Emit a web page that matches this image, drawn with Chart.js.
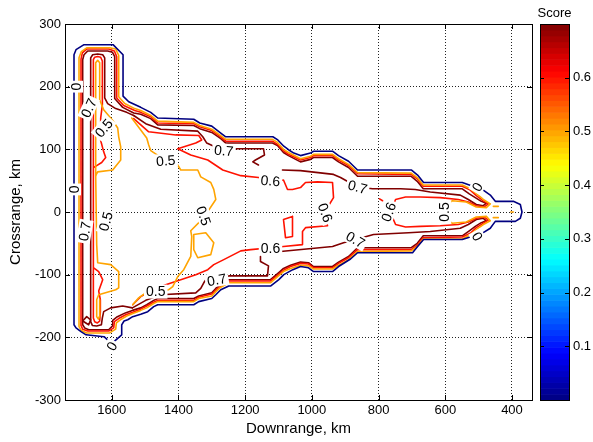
<!DOCTYPE html>
<html>
<head>
<meta charset="utf-8">
<script src="https://cdn.jsdelivr.net/npm/chart.js@4.4.1/dist/chart.umd.min.js"></script>
<style>
  html, body { margin: 0; padding: 0; background: #fff; }
  #wrap { width: 593px; height: 442px; position: relative; }
</style>
</head>
<body>
<div id="wrap"><canvas id="scoreChart"></canvas></div>
<script>
const fontFamily = "'Liberation Sans', Arial, sans-serif";

// axes
const xTicks = [400, 600, 800, 1000, 1200, 1400, 1600];
const yTicks = [-300, -200, -100, 0, 100, 200, 300];
const scoreTicks = [0.1, 0.2, 0.3, 0.4, 0.5, 0.6];
const scoreMin = 0;
const scoreMax = 0.70;

// contour polylines, [downrange km, crossrange km]
const level0Outline = [[1713,209],[1713,251],[1707,259],[1683,267],[1596,267],[1566,251],[1566,185],[1549,176],[1513,167],[1483,159],[1462,150],[1354,148],[1336,142],[1300,137],[1273,126],[1258,120],[1117,120],[1102,115],[1084,105],[1069,99],[1054,94],[1034,90],[1004,94],[995,97],[938,97],[920,90],[890,81],[863,67],[701,67],[683,59],[665,47],[549,47],[486,35],[465,27],[450,17],[396,17],[375,12],[370,0],[375,-10],[390,-15],[450,-15],[465,-26],[486,-33],[549,-44],[665,-44],[683,-55],[698,-65],[863,-65],[884,-75],[920,-87],[938,-95],[995,-95],[1010,-89],[1034,-87],[1057,-92],[1084,-100],[1099,-108],[1123,-118],[1249,-118],[1273,-124],[1288,-132],[1300,-138],[1339,-143],[1354,-148],[1462,-148],[1474,-151],[1492,-159],[1513,-163],[1537,-167],[1552,-172],[1563,-174],[1570,-180],[1570,-196],[1600,-210],[1623,-199],[1677,-196],[1692,-191],[1707,-185],[1713,-180],[1713,209]];

const level05Rim = [[597,12],[579,18],[537,16],[507,8],[477,7],[465,13],[486,20],[504,28],[525,37],[549,43],[666,43],[684,55],[702,62],[863,63],[890,76],[920,85],[938,92],[995,92],[1004,89],[1034,85],[1070,95],[1085,100],[1103,111],[1118,116],[1258,116],[1273,122],[1300,132],[1336,138],[1354,143],[1462,145],[1483,154],[1513,162],[1531,165],[1561,173],[1579,184],[1579,250],[1588,260],[1606,262],[1675,262],[1691,256],[1698,246],[1698,-183],[1691,-189],[1675,-193],[1606,-193],[1588,-187],[1586,-177],[1574,-172],[1555,-166],[1537,-162],[1513,-157],[1495,-153],[1474,-146],[1462,-143],[1354,-143],[1339,-138],[1300,-134],[1288,-127],[1273,-120],[1249,-113],[1124,-113],[1100,-102],[1085,-95],[1064,-90],[1034,-85],[1010,-86],[995,-91],[938,-91],[920,-85],[890,-76],[863,-63],[702,-62],[684,-55],[666,-43],[549,-43],[525,-36],[504,-27],[486,-20],[465,-14],[477,-7],[507,-8],[537,-16],[579,-18],[597,-12],[597,12]];
const level05Valley = [[1648,58],[1648,238],[1642,242],[1636,238],[1636,179],[1624,163],[1597,146],[1582,134],[1579,120],[1573,104],[1573,83],[1597,67],[1642,64],[1648,58]];
const level05ValleyLow = [[1648,58],[1645,-52],[1642,-81],[1603,-84],[1579,-95],[1579,-121],[1588,-124],[1639,-132],[1645,-140],[1645,-167],[1640,-171],[1637,-167],[1636,-140]];
const level05Arc = [[1540,150],[1513,131],[1495,118],[1489,107],[1483,98],[1438,82],[1402,75],[1393,67],[1342,67],[1333,56],[1303,47],[1294,36],[1288,20],[1324,-9],[1363,-30],[1360,-39],[1363,-71],[1384,-92],[1402,-103],[1417,-119],[1429,-124],[1468,-127],[1498,-129],[1519,-137],[1537,-148]];
const level05Hex = [[1354,-36],[1318,-33],[1294,-49],[1303,-68],[1342,-73],[1354,-60],[1354,-36]];
const level05TipUp = [[456,9],[441,9]];
const level05TipLow = [[456,-9],[441,-9]];
const level05TipDot = [[404,0],[396,0]];

const level06Rim = [[758,8],[749,20],[719,24],[675,24],[615,23],[561,20],[531,16],[507,10],[483,8],[471,13],[489,19],[507,26],[525,35],[549,41],[666,41],[684,53],[702,60],[863,61],[890,74],[920,83],[938,90],[995,90],[1004,87],[1034,83],[1070,92],[1085,98],[1103,108],[1118,113],[1258,113],[1273,120],[1300,130],[1336,136],[1354,141],[1462,142],[1483,152],[1513,159],[1531,162],[1564,170],[1585,182],[1585,248],[1592,257],[1609,260],[1675,260],[1688,254],[1692,244],[1692,-181],[1687,-187],[1672,-190],[1609,-190],[1594,-185],[1592,-175],[1579,-170],[1558,-164],[1537,-160],[1513,-155],[1495,-150],[1474,-144],[1462,-141],[1354,-141],[1339,-136],[1300,-131],[1288,-125],[1273,-118],[1249,-110],[1124,-110],[1100,-100],[1085,-93],[1064,-87],[1034,-82],[1010,-83],[995,-89],[938,-89],[920,-82],[890,-73],[863,-60],[702,-60],[684,-53],[666,-41],[549,-40],[525,-34],[507,-25],[489,-19],[471,-13],[483,-8],[507,-10],[531,-16],[561,-20],[615,-22],[675,-23],[719,-24],[749,-20],[758,-9],[758,8]];
const level06Inner = [[1534,149],[1489,128],[1408,123],[1339,122],[1330,115],[1348,110],[1402,101],[1363,91],[1312,83],[1267,67],[1213,58],[1160,55],[1124,50],[1085,51],[1073,36],[1058,36],[1034,39],[1019,47],[983,48],[938,47],[935,23],[950,10],[959,-1],[956,-15],[953,-22],[1019,-25],[1028,-31],[1028,-52],[1085,-55],[1124,-57],[1183,-60],[1213,-62],[1264,-76],[1294,-84],[1312,-92],[1348,-100],[1393,-108],[1438,-116],[1483,-126],[1513,-135],[1537,-148]];
const level06Valley = [[1654,-89],[1639,-95],[1627,-108],[1639,-126],[1634,-140],[1634,-159],[1636,-174],[1643,-177],[1651,-175],[1655,-169],[1655,243],[1651,247],[1642,248],[1633,247],[1628,241],[1628,171],[1633,150],[1633,114],[1624,96],[1618,87],[1630,79],[1645,74],[1654,71]];
const level06Box = [[1085,-12],[1058,-7],[1058,-39],[1079,-41],[1085,-12]];
const level06Dot = [[797,21],[788,18]];

const level07Rim = [[1088,67],[1034,66],[935,60],[914,55],[863,40],[818,37],[734,37],[690,36],[645,32],[555,27],[531,20],[507,12],[486,10],[477,14],[492,17],[510,23],[528,29],[549,37],[666,37],[684,49],[702,57],[863,57],[890,71],[920,80],[938,87],[995,87],[1004,84],[1034,80],[1070,90],[1085,95],[1103,106],[1118,110],[1258,110],[1273,117],[1300,127],[1336,133],[1354,138],[1462,139],[1483,149],[1513,156],[1534,158],[1567,167],[1591,181],[1591,248],[1598,255],[1612,257],[1672,257],[1683,251],[1687,243],[1687,-180],[1681,-185],[1669,-188],[1609,-188],[1598,-182],[1597,-173],[1583,-167],[1559,-161],[1538,-157],[1513,-153],[1495,-148],[1474,-141],[1462,-138],[1354,-138],[1339,-134],[1300,-129],[1288,-122],[1273,-115],[1249,-108],[1124,-108],[1100,-97],[1085,-90],[1064,-85],[1034,-80],[1010,-81],[995,-87],[938,-87],[920,-80],[890,-71],[863,-57],[702,-57],[684,-50],[666,-38],[549,-38],[528,-30],[510,-23],[492,-17],[477,-14],[486,-10],[507,-12],[531,-20],[555,-26],[645,-31],[710,-33],[815,-36],[869,-44],[905,-49],[938,-55],[1094,-63]];
const level07InnerUp = [[1534,154],[1498,141],[1453,132],[1342,129],[1327,120],[1315,110],[1294,105],[1264,98],[1225,101],[1145,101],[1142,91],[1169,83],[1177,80],[1160,75]];
const level07InnerLow = [[1538,-153],[1498,-141],[1453,-132],[1348,-129],[1333,-122],[1324,-113],[1315,-106],[1285,-108],[1249,-102],[1133,-102],[1130,-86],[1154,-79],[1154,-71]];
const level07Valley = [[1534,154],[1555,159],[1588,165],[1612,173],[1621,182],[1621,246],[1627,251],[1642,252],[1657,251],[1663,246],[1663,-175],[1658,-181],[1645,-182],[1631,-180],[1628,-169],[1624,-159],[1603,-153],[1567,-150],[1538,-153]];
const level07Notch = [[1687,-174],[1675,-167],[1663,-172],[1669,-180],[1687,-174]];

const contourLabels = [
  { text: '0', x: 1707, y: 200, angle: -90 },
  { text: '0', x: 1713, y: 36, angle: -90 },
  { text: '0', x: 1600, y: -214, angle: -60 },
  { text: '0', x: 504, y: 40, angle: -60 },
  { text: '0', x: 504, y: -39, angle: 60 },
  { text: '0.7', x: 1669, y: 166, angle: -65 },
  { text: '0.7', x: 1681, y: -31, angle: -80 },
  { text: '0.7', x: 1264, y: 98, angle: 5 },
  { text: '0.7', x: 863, y: 40, angle: 15 },
  { text: '0.7', x: 1285, y: -108, angle: -10 },
  { text: '0.7', x: 869, y: -44, angle: 30 },
  { text: '0.5', x: 1624, y: 134, angle: -50 },
  { text: '0.5', x: 1618, y: -15, angle: -75 },
  { text: '0.5', x: 1438, y: 82, angle: -5 },
  { text: '0.5', x: 1324, y: -6, angle: 70 },
  { text: '0.5', x: 1468, y: -127, angle: 0 },
  { text: '0.5', x: 603, y: 0, angle: -90 },
  { text: '0.6', x: 1124, y: 50, angle: 5 },
  { text: '0.6', x: 1124, y: -57, angle: 0 },
  { text: '0.6', x: 959, y: -1, angle: 70 },
  { text: '0.6', x: 770, y: 0, angle: -70 }
];

const contourLines = [
  { level: 0, pts: level0Outline },
  { level: 0.5, pts: level05Rim },
  { level: 0.5, pts: level05Valley },
  { level: 0.5, pts: level05ValleyLow },
  { level: 0.5, pts: level05Arc },
  { level: 0.5, pts: level05Hex },
  { level: 0.5, pts: level05TipUp },
  { level: 0.5, pts: level05TipLow },
  { level: 0.5, pts: level05TipDot },
  { level: 0.6, pts: level06Rim },
  { level: 0.6, pts: level06Inner },
  { level: 0.6, pts: level06Valley },
  { level: 0.6, pts: level06Box },
  { level: 0.6, pts: level06Dot },
  { level: 0.7, pts: level07Rim },
  { level: 0.7, pts: level07InnerUp },
  { level: 0.7, pts: level07InnerLow },
  { level: 0.7, pts: level07Valley },
  { level: 0.7, pts: level07Notch }
];

function jet(t) {
  t = Math.max(0, Math.min(1, t));
  const c = v => Math.round(255 * Math.max(0, Math.min(1, v)));
  return 'rgb(' + c(1.5 - Math.abs(4 * t - 3)) + ',' + c(1.5 - Math.abs(4 * t - 2)) + ',' + c(1.5 - Math.abs(4 * t - 1)) + ')';
}

const datasets = contourLines.map(line => ({
  data: line.pts.map(p => ({ x: p[0], y: p[1] })),
  showLine: true,
  pointRadius: 0,
  borderWidth: 1.6,
  borderColor: jet((line.level - scoreMin) / (scoreMax - scoreMin)),
  borderJoinStyle: 'round',
  borderCapStyle: 'round',
  tension: 0,
  fill: false
}));

// keep tick label overflow from pushing the plot area around
function noPad(s) {
  s.paddingTop = 0;
  s.paddingBottom = 0;
  s.paddingLeft = 0;
  s.paddingRight = 0;
}

const decorations = {
  id: 'decorations',
  afterDatasetsDraw(chart) {
    const { ctx, scales: { x, y } } = chart;
    ctx.save();
    ctx.font = '14px ' + fontFamily;
    ctx.textAlign = 'center';
    ctx.textBaseline = 'middle';
    contourLabels.forEach(l => {
      const w = ctx.measureText(l.text).width;
      ctx.save();
      ctx.translate(x.getPixelForValue(l.x), y.getPixelForValue(l.y));
      ctx.rotate(l.angle * Math.PI / 180);
      ctx.fillStyle = '#fff';
      ctx.fillRect(-w / 2 - 2, -7, w + 4, 14);
      ctx.fillStyle = '#000';
      ctx.fillText(l.text, 0, 1);
      ctx.restore();
    });
    ctx.restore();
  },
  afterDraw(chart) {
    const { ctx, chartArea: a, scales: { x, y, y2 } } = chart;
    ctx.save();
    ctx.strokeStyle = '#000';
    ctx.lineWidth = 1;
    // inward ticks + box
    ctx.beginPath();
    xTicks.forEach(v => {
      const px = Math.round(x.getPixelForValue(v)) + 0.5;
      ctx.moveTo(px, a.bottom); ctx.lineTo(px, a.bottom - 5);
      ctx.moveTo(px, a.top); ctx.lineTo(px, a.top + 5);
    });
    yTicks.forEach(v => {
      const py = Math.round(y.getPixelForValue(v)) + 0.5;
      ctx.moveTo(a.left, py); ctx.lineTo(a.left + 5, py);
      ctx.moveTo(a.right, py); ctx.lineTo(a.right - 5, py);
    });
    ctx.stroke();
    ctx.strokeRect(Math.round(a.left) + 0.5, Math.round(a.top) + 0.5, Math.round(a.right - a.left), Math.round(a.bottom - a.top));

    // colorbar
    const barLeft = Math.round(y2.left) + 8;
    const barWidth = 29;
    const n = 64;
    for (let i = 0; i < n; i++) {
      const v0 = scoreMin + (scoreMax - scoreMin) * i / n;
      const v1 = scoreMin + (scoreMax - scoreMin) * (i + 1) / n;
      const top = y2.getPixelForValue(v1);
      const bot = y2.getPixelForValue(v0);
      ctx.fillStyle = jet((i + 0.5) / n);
      ctx.fillRect(barLeft, top, barWidth, bot - top + 0.6);
    }
    ctx.beginPath();
    scoreTicks.forEach(v => {
      const py = Math.round(y2.getPixelForValue(v)) + 0.5;
      ctx.moveTo(barLeft, py); ctx.lineTo(barLeft + 4, py);
      ctx.moveTo(barLeft + barWidth, py); ctx.lineTo(barLeft + barWidth - 4, py);
    });
    ctx.stroke();
    ctx.strokeRect(barLeft + 0.5, Math.round(a.top) + 0.5, barWidth, Math.round(a.bottom - a.top));
    ctx.fillStyle = '#000';
    ctx.font = '13px ' + fontFamily;
    ctx.textAlign = 'center';
    ctx.textBaseline = 'middle';
    ctx.fillText('Score', barLeft + barWidth / 2, 13);
    ctx.restore();
  }
};

const tickFont = { family: fontFamily, size: 13 };
const titleFont = { family: fontFamily, size: 15 };

new Chart(document.getElementById('scoreChart'), {
  type: 'scatter',
  data: { datasets: datasets },
  options: {
    responsive: true,
    maintainAspectRatio: false,
    animation: false,
    layout: { padding: { top: 24, right: 0, bottom: 0, left: 0 } },
    plugins: { legend: { display: false }, tooltip: { enabled: false } },
    scales: {
      x: {
        type: 'linear', position: 'bottom', reverse: true, min: 340, max: 1740,
        afterBuildTicks: s => { s.ticks = xTicks.map(v => ({ value: v })); },
        afterFit: s => { s.height = 42; noPad(s); },
        grid: { color: '#222', lineWidth: 1, drawTicks: false },
        border: { display: false, dash: [1, 2] },
        ticks: { padding: 3, color: '#000', font: tickFont, maxRotation: 0, autoSkip: false, callback: v => String(v) },
        title: { display: true, text: 'Downrange, km', color: '#000', font: titleFont, padding: { top: 0, bottom: 4 } }
      },
      y: {
        type: 'linear', position: 'left', min: -300, max: 300,
        afterBuildTicks: s => { s.ticks = yTicks.map(v => ({ value: v })); },
        afterFit: s => { s.width = 65; noPad(s); },
        grid: { color: '#222', lineWidth: 1, drawTicks: false },
        border: { display: false, dash: [1, 2] },
        ticks: { padding: 4, color: '#000', font: tickFont, autoSkip: false, callback: v => String(v) },
        title: { display: true, text: 'Crossrange, km', color: '#000', font: titleFont, padding: { top: 7, bottom: 0 } }
      },
      y2: {
        type: 'linear', position: 'right', min: scoreMin, max: scoreMax,
        afterBuildTicks: s => { s.ticks = scoreTicks.map(v => ({ value: v })); },
        afterFit: s => { s.width = 61; noPad(s); },
        grid: { display: false, drawTicks: false },
        border: { display: false },
        ticks: { padding: 41, color: '#000', font: tickFont, autoSkip: false, callback: v => v.toFixed(1) }
      }
    }
  },
  plugins: [decorations]
});
</script>
</body>
</html>
